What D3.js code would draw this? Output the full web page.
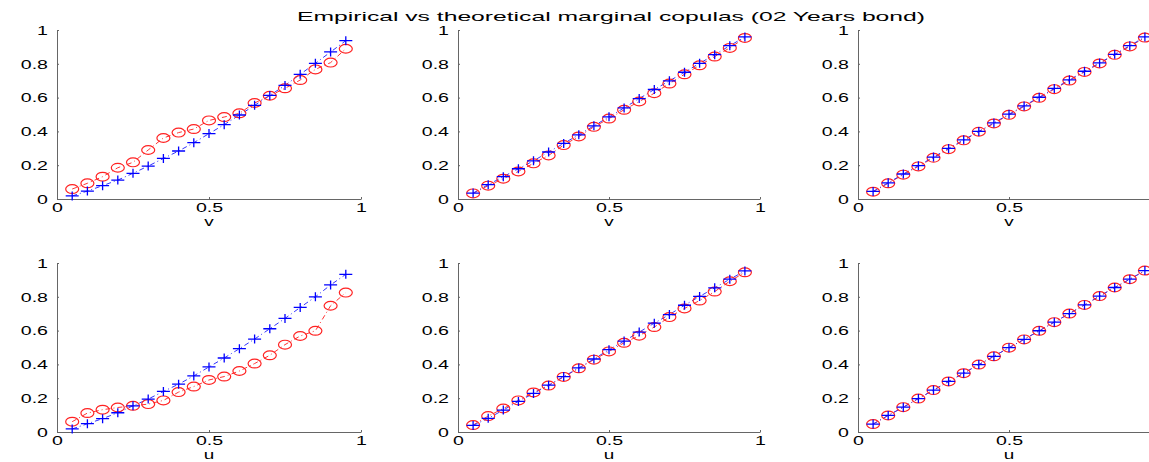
<!DOCTYPE html>
<html>
<head>
<meta charset="utf-8">
<script src="https://cdn.jsdelivr.net/npm/d3@7"></script>
<style>
  body { margin: 0; background: #fff; }
  svg { display: block; }
  .axis path, .axis line { stroke: #666; }
  .axis text { font-family: "Liberation Sans", Arial, sans-serif; font-size: 13.5px; fill: #000; }
</style>
</head>
<body>
<svg width="1149" height="462"></svg>
<script>
// grid points u (or v)
let grid = [0.05,0.10,0.15,0.20,0.25,0.30,0.35,0.40,0.45,0.50,0.55,0.60,0.65,0.70,0.75,0.80,0.85,0.90,0.95];
let xTicks = [0, 0.5, 1];
let xTicksCut = [0, 0.5]; // right column: the 1 lies past the picture edge
let yTicks = [0, 0.2, 0.4, 0.6, 0.8, 1];
let titleText = "Empirical vs theoretical marginal copulas (02 Years bond)";
let xLabels = ["v", "v", "v", "u", "u", "u"];

// blue + (theoretical) and red o (empirical), one pair per panel
let blue1 = [0.018,0.047,0.079,0.112,0.152,0.195,0.240,0.284,0.333,0.387,0.440,0.497,0.554,0.613,0.672,0.738,0.803,0.870,0.937];
let red1  = [0.059,0.093,0.132,0.185,0.217,0.290,0.361,0.393,0.414,0.465,0.485,0.507,0.568,0.611,0.655,0.704,0.767,0.807,0.889];
let blue2 = [0.035,0.085,0.132,0.179,0.226,0.278,0.329,0.380,0.433,0.486,0.539,0.594,0.648,0.699,0.750,0.803,0.854,0.907,0.959];
let red2  = [0.033,0.079,0.120,0.163,0.211,0.258,0.319,0.370,0.427,0.476,0.528,0.577,0.626,0.683,0.738,0.791,0.843,0.894,0.953];
let blue3 = [0.045,0.096,0.148,0.197,0.248,0.299,0.350,0.400,0.450,0.502,0.551,0.602,0.654,0.705,0.756,0.805,0.856,0.907,0.959];
let red3  = [0.043,0.093,0.144,0.193,0.244,0.295,0.347,0.398,0.447,0.498,0.548,0.599,0.650,0.701,0.752,0.802,0.853,0.903,0.955];
let blue4 = [0.018,0.049,0.079,0.114,0.155,0.195,0.240,0.283,0.332,0.385,0.438,0.493,0.550,0.611,0.672,0.737,0.800,0.870,0.933];
let red4  = [0.061,0.112,0.132,0.145,0.155,0.165,0.187,0.236,0.269,0.308,0.328,0.361,0.405,0.454,0.517,0.568,0.599,0.747,0.825];
let blue5 = [0.039,0.081,0.130,0.181,0.228,0.277,0.328,0.379,0.432,0.487,0.538,0.591,0.644,0.695,0.750,0.802,0.853,0.904,0.953];
let red5  = [0.041,0.094,0.139,0.187,0.234,0.275,0.326,0.377,0.428,0.477,0.528,0.570,0.621,0.680,0.731,0.778,0.831,0.892,0.945];
let blue6 = [0.047,0.098,0.147,0.198,0.248,0.299,0.348,0.399,0.448,0.499,0.548,0.599,0.650,0.701,0.752,0.804,0.855,0.904,0.955];
let red6  = [0.047,0.098,0.147,0.198,0.248,0.299,0.348,0.399,0.448,0.499,0.548,0.599,0.650,0.701,0.752,0.804,0.855,0.904,0.955];

let blues = [blue1, blue2, blue3, blue4, blue5, blue6];
let reds = [red1, red2, red3, red4, red5, red6];

let svg = d3.select("svg");
let stretch = 1.45; // the picture is wider than tall, glyphs too

// panel frames
let cols = [[57, 361], [458, 760], [858, 1160]];
let rows = [[199, 30], [432, 263]];

svg.append("text")
  .attr("x", 297)
  .attr("y", 21)
  .attr("textLength", 628)
  .attr("lengthAdjust", "spacingAndGlyphs")
  .attr("font-family", "Liberation Sans, Arial, sans-serif")
  .attr("font-size", 13)
  .attr("fill", "#000")
  .text(titleText);

for (let i = 0; i < 6; i++) {
  let c = cols[i % 3], r = rows[Math.floor(i / 3)];
  let x = d3.scaleLinear().domain([0, 1]).range(c);
  let y = d3.scaleLinear().domain([0, 1]).range(r);
  let g = svg.append("g");

  let ax = g.append("g")
    .attr("class", "axis")
    .attr("transform", `translate(0,${r[0]})`)
    .call(d3.axisBottom(x).tickValues(i % 3 == 2 ? xTicksCut : xTicks).tickSize(-2).tickSizeOuter(0).tickFormat(d3.format("")));
  ax.selectAll("text")
    .attr("y", null).attr("dy", null)
    .attr("transform", `translate(0,13) scale(${stretch},1)`);

  let ay = g.append("g")
    .attr("class", "axis")
    .attr("transform", `translate(${c[0]},0)`)
    .call(d3.axisLeft(y).tickValues(yTicks).tickSize(-2).tickSizeOuter(0).tickFormat(d3.format("")));
  ay.selectAll("text")
    .attr("x", null)
    .attr("transform", `translate(-9,0) scale(${stretch},1)`);

  g.append("text")
    .attr("transform", `translate(${x(0.5)},${r[0] + 26.5}) scale(${stretch},1)`)
    .attr("text-anchor", "middle")
    .attr("font-family", "Liberation Sans, Arial, sans-serif")
    .attr("font-size", 13)
    .attr("fill", "#000")
    .text(xLabels[i]);

  let line = d3.line().x((d, k) => x(grid[k])).y(d => y(d));

  g.append("path")
    .datum(reds[i])
    .attr("d", line)
    .attr("fill", "none")
    .attr("stroke", "#f33")
    .attr("stroke-width", 1)
    .attr("stroke-dasharray", "5,3,1,3");
  g.append("path")
    .datum(blues[i])
    .attr("d", line)
    .attr("fill", "none")
    .attr("stroke", "#33f")
    .attr("stroke-width", 1)
    .attr("stroke-dasharray", "5,3,1,3");

  g.selectAll("ellipse")
    .data(reds[i])
    .enter().append("ellipse")
      .attr("cx", (d, k) => x(grid[k]))
      .attr("cy", d => y(d))
      .attr("rx", 6.5)
      .attr("ry", 4.4)
      .attr("fill", "none")
      .attr("stroke", "#f22")
      .attr("stroke-width", 1.2);

  g.selectAll("path.plus")
    .data(blues[i])
    .enter().append("path")
      .attr("class", "plus")
      .attr("d", (d, k) => {
        let px = x(grid[k]), py = y(d);
        return `M${px - 6.5},${py}H${px + 6.5}M${px},${py - 4.5}V${py + 4.5}`;
      })
      .attr("stroke", "#00f")
      .attr("stroke-width", 1.3);
}
</script>
</body>
</html>
